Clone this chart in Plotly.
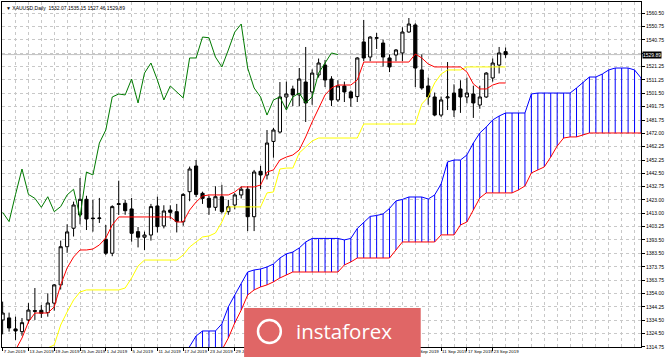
import plotly.graph_objects as go

# ---------------- data ----------------
bar_idx = list(range(79))  # 7 Jun 2019 .. 25 Sep 2019 (daily bars)

opens = [1334.6, 1336.1, 1328.0, 1326.0, 1334.6, 1341.5, 1341.7, 1340.0, 1347.0, 1360.4,
         1388.5, 1402.1, 1411.9, 1423.4, 1409.6, 1409.2, 1394.0, 1383.7, 1419.6, 1420.5,
         1416.3, 1399.6, 1395.5, 1397.1, 1418.5, 1403.8, 1415.5, 1414.3, 1406.9, 1429.0,
         1447.9, 1427.8, 1424.1, 1417.5, 1425.3, 1414.3, 1419.2, 1426.6, 1430.8, 1410.6,
         1444.0, 1441.3, 1466.0, 1472.9, 1498.7, 1504.6, 1500.2, 1509.7, 1502.4, 1514.9,
         1522.2, 1511.9, 1496.5, 1506.8, 1502.4, 1499.0, 1539.2, 1528.1, 1541.9, 1538.4,
         1527.4, 1529.6, 1531.1, 1546.5, 1551.7, 1518.6, 1506.8, 1498.7, 1485.4, 1498.0,
         1501.6, 1504.6, 1498.7, 1500.9, 1492.8, 1498.7, 1512.7, 1522.2, 1532.07]
highs = [1348.1, 1340.0, 1337.0, 1336.0, 1347.0, 1358.1, 1345.6, 1354.2, 1361.0, 1393.0,
         1405.0, 1421.7, 1439.0, 1426.0, 1422.9, 1424.4, 1404.5, 1419.0, 1437.1, 1423.0,
         1424.4, 1403.0, 1399.6, 1420.0, 1425.3, 1419.0, 1419.0, 1420.0, 1428.0, 1447.5,
         1452.3, 1429.0, 1426.0, 1433.0, 1434.0, 1423.0, 1428.0, 1433.0, 1433.0, 1445.0,
         1448.0, 1474.4, 1476.0, 1509.7, 1510.0, 1507.0, 1520.0, 1535.5, 1519.0, 1527.0,
         1526.0, 1514.0, 1511.0, 1510.0, 1503.5, 1528.0, 1555.4, 1543.5, 1545.8, 1541.0,
         1530.0, 1534.0, 1550.0, 1556.8, 1553.0, 1530.0, 1513.0, 1502.0, 1499.0, 1524.4,
         1508.0, 1511.0, 1513.0, 1507.0, 1507.0, 1517.0, 1527.0, 1535.5, 1535.15]
lows = [1324.0, 1326.0, 1319.9, 1323.0, 1332.0, 1334.6, 1336.1, 1337.0, 1341.5, 1357.0,
        1384.0, 1396.0, 1405.0, 1400.8, 1399.6, 1406.0, 1382.4, 1381.5, 1411.9, 1412.0,
        1392.2, 1388.0, 1386.1, 1393.0, 1399.0, 1402.0, 1409.0, 1399.0, 1404.0, 1422.0,
        1425.0, 1420.0, 1412.0, 1415.0, 1413.0, 1412.0, 1416.0, 1424.0, 1400.0, 1400.0,
        1431.0, 1438.0, 1454.0, 1472.0, 1490.0, 1492.0, 1492.0, 1480.3, 1493.0, 1513.0,
        1506.0, 1492.0, 1495.0, 1495.0, 1491.5, 1495.0, 1525.0, 1525.0, 1534.0, 1521.0,
        1517.0, 1525.0, 1525.0, 1546.0, 1506.0, 1504.0, 1493.0, 1484.5, 1484.0, 1489.1,
        1484.0, 1487.0, 1494.0, 1483.3, 1490.0, 1498.0, 1510.0, 1516.0, 1527.46]
closes = [1339.7, 1328.7, 1326.5, 1332.6, 1341.9, 1341.0, 1339.5, 1347.1, 1360.4, 1388.5,
          1399.4, 1419.2, 1423.4, 1408.9, 1409.2, 1409.6, 1383.7, 1418.0, 1420.1, 1415.0,
          1398.4, 1395.5, 1397.1, 1418.0, 1403.3, 1414.8, 1413.8, 1407.0, 1427.0, 1445.7,
          1427.0, 1424.1, 1417.5, 1425.3, 1414.3, 1418.0, 1426.6, 1430.8, 1410.6, 1443.5,
          1441.3, 1464.8, 1474.4, 1498.7, 1500.9, 1500.2, 1511.9, 1494.3, 1516.3, 1523.7,
          1511.2, 1496.5, 1506.8, 1502.4, 1498.0, 1527.4, 1527.4, 1542.8, 1542.3, 1528.1,
          1520.8, 1533.3, 1546.5, 1552.4, 1520.0, 1505.3, 1498.7, 1485.4, 1496.5, 1498.7,
          1489.1, 1498.7, 1501.6, 1494.3, 1498.7, 1516.3, 1523.7, 1531.1, 1529.89]

tenkan = [1296.3, 1303.7, 1312.5, 1321.3, 1333.1, 1339.7, 1339.7, 1339.7, 1344.2, 1360.4,
          1372.9, 1380.9, 1386.1, 1386.1, 1386.8, 1389.8, 1394.9, 1404.5, 1410.4, 1410.4,
          1410.4, 1410.4, 1410.4, 1410.4, 1410.4, 1410.4, 1410.4, 1406.7, 1406.7, 1415.5,
          1421.4, 1425.8, 1426.6, 1426.6, 1426.6, 1426.6, 1428.8, 1432.5, 1432.5, 1432.5,
          1433.9, 1443.5, 1445.0, 1452.3, 1454.5, 1456.0, 1459.7, 1469.3, 1480.3, 1490.6,
          1500.2, 1505.3, 1507.5, 1507.5, 1507.5, 1511.2, 1524.4, 1524.4, 1524.4, 1524.4,
          1524.4, 1524.4, 1524.4, 1524.4, 1530.3, 1527.4, 1523.0, 1520.8, 1520.8, 1520.8,
          1520.8, 1520.8, 1517.1, 1508.3, 1504.6, 1504.6, 1507.5, 1509.0, 1509.0]
kijun = [1301.5, 1303.7, 1306.6, 1308.8, 1312.5, 1314.0, 1314.0, 1314.0, 1316.2, 1330.9,
         1340.5, 1349.3, 1355.2, 1356.7, 1356.7, 1356.7, 1356.7, 1356.7, 1356.7, 1358.1,
         1365.5, 1374.3, 1378.7, 1378.7, 1378.7, 1378.7, 1378.7, 1378.7, 1382.4, 1388.3,
         1392.0, 1395.7, 1396.4, 1398.6, 1406.7, 1417.8, 1417.8, 1417.8, 1417.8, 1417.8,
         1417.8, 1428.1, 1428.8, 1445.7, 1446.4, 1446.4, 1457.5, 1461.9, 1466.3, 1468.5,
         1468.5, 1468.5, 1468.5, 1468.5, 1468.5, 1468.5, 1478.8, 1478.8, 1478.8, 1478.8,
         1478.8, 1478.8, 1478.8, 1478.8, 1478.8, 1493.5, 1498.7, 1509.0, 1515.6, 1518.6,
         1518.6, 1518.6, 1520.8, 1520.8, 1520.8, 1520.8, 1520.8, 1520.8, 1520.8]

# Senkou spans are plotted 26 bars ahead: indices 26 .. 104
span_idx = list(range(26, 105))
senkou_a = [1298.9, 1303.7, 1309.6, 1315.1, 1322.8, 1326.5, 1326.5, 1326.5, 1331.7, 1344.2,
            1353.0, 1361.1, 1369.9, 1371.4, 1372.1, 1373.6, 1375.8, 1380.2, 1383.2, 1384.6,
            1387.6, 1392.0, 1394.6, 1394.6, 1394.6, 1394.6, 1394.6, 1393.5, 1394.6, 1401.9,
            1406.7, 1410.8, 1411.5, 1412.6, 1416.7, 1422.2, 1423.3, 1425.1, 1425.1, 1425.1,
            1423.6, 1426.6, 1434.7, 1450.9, 1452.3, 1452.3, 1456.0, 1464.8, 1472.2, 1476.6,
            1481.8, 1484.7, 1486.9, 1486.9, 1486.9, 1486.9, 1500.9, 1501.6, 1501.6, 1501.6,
            1501.6, 1501.6, 1501.6, 1505.3, 1509.7, 1513.4, 1513.4, 1515.6, 1518.6, 1520.0,
            1520.0, 1520.0, 1518.6, 1512.7, 1512.7, 1512.7, 1514.1, 1514.9, 1514.9]
senkou_b = [1286.8, 1286.8, 1290.4, 1291.9, 1294.1, 1297.8, 1301.5, 1306.6, 1312.5, 1321.3,
            1332.4, 1341.9, 1353.0, 1356.7, 1358.9, 1360.4, 1362.6, 1365.5, 1367.7, 1369.9,
            1369.9, 1369.9, 1369.9, 1369.9, 1369.9, 1369.9, 1369.9, 1375.1, 1377.3, 1380.2,
            1380.2, 1380.2, 1380.2, 1380.2, 1380.2, 1386.1, 1392.0, 1392.0, 1392.0, 1392.0,
            1392.0, 1392.0, 1397.2, 1397.2, 1397.2, 1404.5, 1406.7, 1415.5, 1424.4, 1428.1,
            1428.1, 1428.1, 1428.1, 1428.1, 1430.3, 1433.2, 1442.8, 1445.0, 1447.2, 1454.5,
            1462.6, 1468.5, 1469.3, 1469.3, 1470.7, 1472.2, 1472.2, 1472.2, 1472.2, 1472.2,
            1472.2, 1472.2, 1472.2, 1472.2, 1472.2, 1472.2, 1472.2, 1472.2, 1472.2]

# Chikou span: close plotted 26 bars back
chikou_idx = bar_idx[:len(bar_idx) - 26]
chikou = closes[26:]

x_tick_pos = [0, 4, 8, 12, 16, 20, 24, 28, 32, 36, 40, 44, 48, 52, 56, 60, 64, 68, 72, 76]
x_tick_txt = ["7 Jun 2019", "13 Jun 2019", "19 Jun 2019", "25 Jun 2019", "1 Jul 2019",
              "5 Jul 2019", "11 Jul 2019", "17 Jul 2019", "23 Jul 2019", "29 Jul 2019",
              "2 Aug 2019", "8 Aug 2019", "14 Aug 2019", "20 Aug 2019", "26 Aug 2019",
              "30 Aug 2019", "5 Sep 2019", "11 Sep 2019", "17 Sep 2019", "23 Sep 2019"]
y_ticks = [1560.50, 1550.75, 1540.75, 1531.00, 1521.25, 1511.25, 1501.50, 1491.75, 1481.75,
           1472.00, 1462.25, 1452.25, 1442.50, 1432.75, 1423.00, 1413.00, 1403.25, 1393.50,
           1383.50, 1373.75, 1363.75, 1354.00, 1344.25, 1334.50, 1324.50, 1314.75]
# the 1531.00 label sits under the current-price marker, so it is left blank
y_tick_txt = ["" if v == 1531.00 else "%.2f" % v for v in y_ticks]

title_txt = "\u25bc XAUUSD,Daily  1532.07 1535.15 1527.46 1529.89"
last_price = closes[-1]

# ---------------- figure ----------------
fig = go.Figure()

# cloud hatch (vertical lines between span A and span B)
hx, hy = [], []
for xi, a, b in zip(span_idx, senkou_a, senkou_b):
    hx += [xi, xi, None]
    hy += [a, b, None]
fig.add_trace(go.Scatter(x=hx, y=hy, mode="lines", line=dict(color="#0000ff", width=1),
                         hoverinfo="skip", connectgaps=False))
fig.add_trace(go.Scatter(x=span_idx, y=senkou_b, mode="lines", line=dict(color="#ff0000", width=1)))
fig.add_trace(go.Scatter(x=span_idx, y=senkou_a, mode="lines", line=dict(color="#0000ff", width=1)))

fig.add_trace(go.Scatter(x=bar_idx, y=kijun, mode="lines", line=dict(color="#ffff00", width=1)))
fig.add_trace(go.Scatter(x=bar_idx, y=tenkan, mode="lines", line=dict(color="#ff0000", width=1)))
fig.add_trace(go.Scatter(x=chikou_idx, y=chikou, mode="lines", line=dict(color="#007a00", width=1)))

fig.add_trace(go.Candlestick(
    x=bar_idx, open=opens, high=highs, low=lows, close=closes,
    increasing=dict(line=dict(color="#000000", width=1), fillcolor="#ffffff"),
    decreasing=dict(line=dict(color="#000000", width=1), fillcolor="#000000"),
    whiskerwidth=0, hoverinfo="skip"))

# bid line
fig.add_shape(type="line", xref="paper", x0=0, x1=1, yref="y", y0=last_price, y1=last_price,
              line=dict(color="#c0c0c0", width=1), layer="below")

grid_style = dict(showgrid=True, gridcolor="#c8c8c8", griddash="dot", gridwidth=1)
fig.update_xaxes(range=[-0.1, 99.0], tickmode="array", tickvals=x_tick_pos, ticktext=x_tick_txt,
                 ticks="outside", ticklen=3, tickcolor="#000", ticklabelposition="outside right",
                 tickangle=0,
                 tickfont=dict(size=4.4, color="#000", family="Liberation Sans"),
                 showline=True, mirror=True, linecolor="#000", linewidth=1,
                 minor=dict(tickmode="linear", tick0=0, dtick=2, showgrid=True,
                            gridcolor="#c8c8c8", griddash="dot", gridwidth=1),
                 rangeslider=dict(visible=False), zeroline=False, **grid_style)
fig.update_yaxes(range=[1314.7, 1568.6], side="right", tickmode="array", tickvals=y_ticks,
                 ticktext=y_tick_txt, ticks="outside", ticklen=3, tickcolor="#000",
                 tickfont=dict(size=5, color="#000", family="Liberation Sans"),
                 showline=True, mirror=True, linecolor="#000", linewidth=1,
                 zeroline=False, **grid_style)

# instaforex logo block (pixel positions converted to paper coordinates)
def px(p):
    return (p - 1) / 644


def py(p):
    return (347 - p) / 345


fig.add_shape(type="rect", xref="paper", yref="paper", x0=px(245), x1=px(423),
              y0=py(358), y1=py(308), fillcolor="#e06666",
              line=dict(width=0), layer="above")
fig.add_shape(type="circle", xref="paper", yref="paper", x0=px(259), x1=px(282),
              y0=py(343), y1=py(320), fillcolor="rgba(0,0,0,0)",
              line=dict(color="#ffffff", width=2.5), layer="above")
fig.add_annotation(xref="paper", yref="paper", x=px(346), y=py(331),
                   text="instaforex", showarrow=False, xanchor="center", yanchor="middle",
                   font=dict(size=20.5, color="#ffffff", family="Open Sans"))

# current price label
fig.add_annotation(xref="paper", yref="y", x=1, y=last_price, xanchor="left", yanchor="middle",
                   xshift=1, text="%.2f" % last_price, showarrow=False, bgcolor="#000000",
                   borderpad=0, font=dict(size=5, color="#ffffff", family="Liberation Sans"))
# chart header
fig.add_annotation(xref="paper", yref="paper", x=0, y=1, xanchor="left", yanchor="top",
                   xshift=2, yshift=-1, text=title_txt, showarrow=False,
                   font=dict(size=5, color="#000000", family="Liberation Sans"))

fig.update_layout(width=665, height=357, margin=dict(l=1, r=20, t=2, b=10),
                  plot_bgcolor="#ffffff", paper_bgcolor="#ffffff", showlegend=False)

fig.write_html("out.html")
